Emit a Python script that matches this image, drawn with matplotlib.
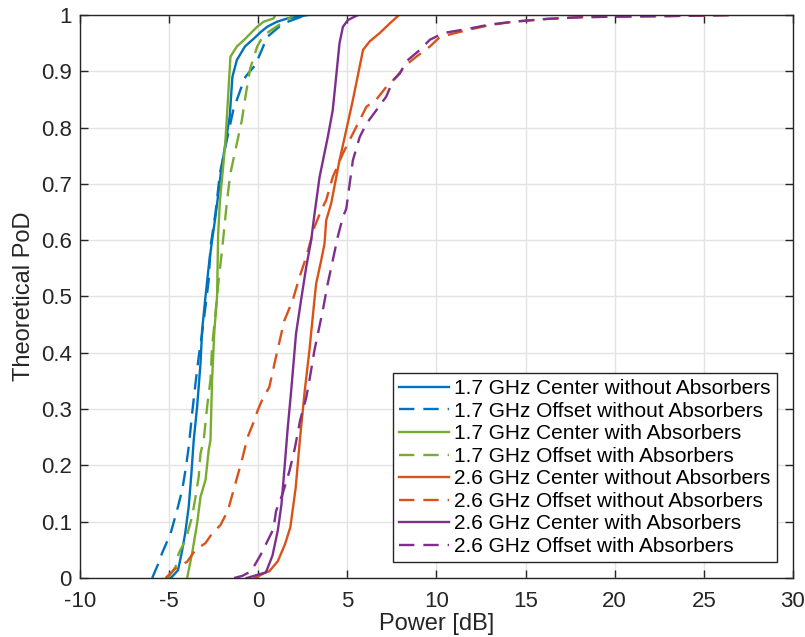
import matplotlib
matplotlib.use("Agg")
import matplotlib.pyplot as plt

plt.rcParams['font.family'] = ['Liberation Sans', 'DejaVu Sans']

# Empirical CDF knots (power in dB, probability of detection)
c17_nofab_x = [-4.9, -4.5, -4.3, -4.1, -3.9, -3.75, -3.62, -3.43, -3.24, -3.15, -2.96, -2.78,
               -2.59, -2.4, -2.25, -2.1, -1.9, -1.75, -1.6, -1.45, -1.2, -0.75, -0.25, 0.15,
               0.5, 1.05, 1.65, 2.8]
c17_nofab_y = [0.0, 0.014, 0.044, 0.079, 0.127, 0.186, 0.245, 0.304, 0.381, 0.44, 0.5, 0.553,
               0.6, 0.642, 0.68, 0.72, 0.76, 0.79, 0.82, 0.89, 0.92, 0.944, 0.958, 0.97,
               0.979, 0.988, 0.994, 1.0]

o17_nofab_x = [-5.95, -5.6, -5.4, -4.92, -4.55, -4.27, -4.08, -3.9, -3.71, -3.52, -3.34, -3.15,
               -2.96, -2.78, -2.68, -2.4, -2.15, -1.75, -1.4, -1.0, -0.72, -0.17, 0.2, 0.5,
               1.4, 2.7]
o17_nofab_y = [0.0, 0.026, 0.044, 0.079, 0.121, 0.156, 0.192, 0.233, 0.292, 0.346, 0.393, 0.435,
               0.482, 0.529, 0.588, 0.648, 0.719, 0.78, 0.831, 0.867, 0.89, 0.911, 0.938, 0.961,
               0.985, 1.0]

c17_ab_x = [-3.99, -3.71, -3.43, -3.24, -2.96, -2.78, -2.68, -2.59, -2.46, -2.31, -2.25, -2.15,
            -2.0, -1.85, -1.7, -1.56, -1.2, -0.72, -0.35, -0.06, 0.3, 0.87, 0.95]
c17_ab_y = [0.0, 0.044, 0.097, 0.144, 0.174, 0.227, 0.245, 0.352, 0.44, 0.5, 0.61, 0.67,
            0.72, 0.772, 0.85, 0.926, 0.944, 0.958, 0.97, 0.979, 0.988, 0.994, 1.0]

o17_ab_x = [-5.05, -4.64, -4.46, -4.08, -3.71, -3.52, -3.34, -3.24, -3.06, -2.87, -2.68, -2.59,
            -2.4, -2.22, -2.03, -1.84, -1.75, -1.56, -1.2, -0.92, -0.72, -0.45, -0.06, 0.3,
            1.43, 2.0]
o17_ab_y = [0.0, 0.02, 0.044, 0.067, 0.109, 0.144, 0.18, 0.221, 0.245, 0.304, 0.352, 0.411,
            0.47, 0.529, 0.583, 0.642, 0.671, 0.719, 0.772, 0.813, 0.855, 0.905, 0.944, 0.964,
            0.988, 1.0]

c26_nofab_x = [-0.2, 0.43, 0.62, 1.1, 1.5, 1.8, 2.1, 2.35, 2.6, 2.87, 3.15, 3.25, 3.53, 3.72,
               3.81, 4.09, 4.56, 4.85, 5.31, 5.88, 6.25, 6.82, 7.38, 7.9]
c26_nofab_y = [0.0, 0.01, 0.012, 0.03, 0.06, 0.09, 0.16, 0.25, 0.33, 0.404, 0.493, 0.523, 0.564,
               0.594, 0.635, 0.665, 0.742, 0.783, 0.849, 0.938, 0.953, 0.968, 0.985, 1.0]

o26_nofab_x = [-5.2, -4.64, -3.99, -3.52, -2.96, -2.59, -2.12, -1.7, -1.28, -0.91, -0.6, -0.23,
               -0.04, 0.2, 0.62, 0.99, 1.46, 1.93, 2.31, 2.69, 3.15, 3.53, 3.81, 4.18, 4.75,
               5.13, 5.69, 6.07, 6.63, 7.18, 7.75, 8.32, 8.87, 9.63, 10.2, 11.7, 13.0, 14.3,
               16.2, 18.1, 20.0, 23.0, 26.9]
o26_nofab_y = [0.0, 0.017, 0.029, 0.05, 0.062, 0.079, 0.094, 0.12, 0.168, 0.21, 0.25, 0.279,
               0.297, 0.315, 0.339, 0.392, 0.457, 0.493, 0.534, 0.57, 0.623, 0.653, 0.671, 0.712,
               0.754, 0.778, 0.813, 0.837, 0.85, 0.872, 0.89, 0.912, 0.926, 0.944, 0.961, 0.973,
               0.982, 0.988, 0.993, 0.996, 0.997, 0.998, 1.0]

c26_ab_x = [-0.65, 0.43, 0.8, 1.1, 1.3, 1.46, 1.65, 1.84, 2.12, 2.4, 2.69, 2.97, 3.15, 3.44,
            3.9, 4.18, 4.37, 4.56, 4.75, 5.03, 5.6]
c26_ab_y = [0.0, 0.01, 0.04, 0.085, 0.13, 0.19, 0.265, 0.33, 0.434, 0.493, 0.552, 0.6, 0.645,
            0.712, 0.783, 0.831, 0.89, 0.95, 0.979, 0.991, 1.0]

o26_ab_x = [-1.35, -0.88, -0.4, 0.15, 0.85, 1.0, 1.37, 1.75, 2.05, 2.35, 2.69, 2.87, 3.15, 3.62,
            3.9, 4.18, 4.46, 4.75, 4.94, 5.31, 5.69, 6.07, 6.63, 7.18, 7.57, 7.94, 8.32, 9.07,
            9.63, 10.4, 11.7, 13.0, 14.3, 16.2, 18.1, 20.0, 23.0, 26.9]
o26_ab_y = [0.0, 0.004, 0.012, 0.042, 0.087, 0.119, 0.15, 0.19, 0.23, 0.28, 0.32, 0.351, 0.404,
            0.475, 0.523, 0.564, 0.606, 0.641, 0.656, 0.742, 0.783, 0.807, 0.831, 0.855, 0.884,
            0.896, 0.918, 0.938, 0.956, 0.968, 0.975, 0.983, 0.988, 0.993, 0.996, 0.997, 0.998,
            1.0]

labels = ["1.7 GHz Center without Absorbers",
          "1.7 GHz Offset without Absorbers",
          "1.7 GHz Center with Absorbers",
          "1.7 GHz Offset with Absorbers",
          "2.6 GHz Center without Absorbers",
          "2.6 GHz Offset without Absorbers",
          "2.6 GHz Center with Absorbers",
          "2.6 GHz Offset with Absorbers"]

x_ticks = [-10, -5, 0, 5, 10, 15, 20, 25, 30]
y_ticks = [0, 0.1, 0.2, 0.3, 0.4, 0.5, 0.6, 0.7, 0.8, 0.9, 1]
y_tick_labels = ["0", "0.1", "0.2", "0.3", "0.4", "0.5", "0.6", "0.7", "0.8", "0.9", "1"]

blue, orange, green, purple = "#0072BD", "#D95319", "#77AC30", "#7E2F8E"

series = [
    (c17_nofab_x, c17_nofab_y, blue, "-"),
    (o17_nofab_x, o17_nofab_y, blue, "--"),
    (c17_ab_x, c17_ab_y, green, "-"),
    (o17_ab_x, o17_ab_y, green, "--"),
    (c26_nofab_x, c26_nofab_y, orange, "-"),
    (o26_nofab_x, o26_nofab_y, orange, "--"),
    (c26_ab_x, c26_ab_y, purple, "-"),
    (o26_ab_x, o26_ab_y, purple, "--"),
]

fig = plt.figure(figsize=(8.05, 6.37), dpi=100)
ax = fig.add_axes([0.0994, 0.0926, 0.8856, 0.8839])

for (xs, ys, col, ls), lab in zip(series, labels):
    kw = dict(color=col, lw=1.7, label=lab)
    if ls == "--":
        kw["dashes"] = (6.5, 3.8)
    ax.plot(xs, ys, **kw)

ax.set_xlim(-10, 30)
ax.set_ylim(0, 1)
ax.set_xticks(x_ticks)
ax.set_xticklabels([str(t) for t in x_ticks])
ax.set_yticks(y_ticks)
ax.set_yticklabels(y_tick_labels)
ax.grid(True, color="#e3e3e3", lw=1.0)
ax.set_axisbelow(True)
ax.tick_params(direction="in", top=True, right=True, length=6, width=1,
               color="#262626", labelsize=16, labelcolor="#262626")
ax.tick_params(axis="x", pad=9)
ax.tick_params(axis="y", pad=6)
for sp in ax.spines.values():
    sp.set_color("#262626")
    sp.set_linewidth(1.0)

ax.set_xlabel("Power [dB]", fontsize=17, color="#262626", labelpad=1)
ax.set_ylabel("Theoretical PoD", fontsize=17, color="#262626", labelpad=4)

leg = ax.legend(loc="lower right", bbox_to_anchor=(0.978, 0.028), fontsize=15,
                frameon=True, fancybox=False, edgecolor="#262626", framealpha=1,
                handlelength=2.4, handletextpad=0.25, labelspacing=0.17,
                borderpad=0.3, borderaxespad=0)
leg.get_frame().set_linewidth(1.0)
for t in leg.get_texts():
    t.set_color("#000000")

fig.savefig("out.png", dpi=100)
